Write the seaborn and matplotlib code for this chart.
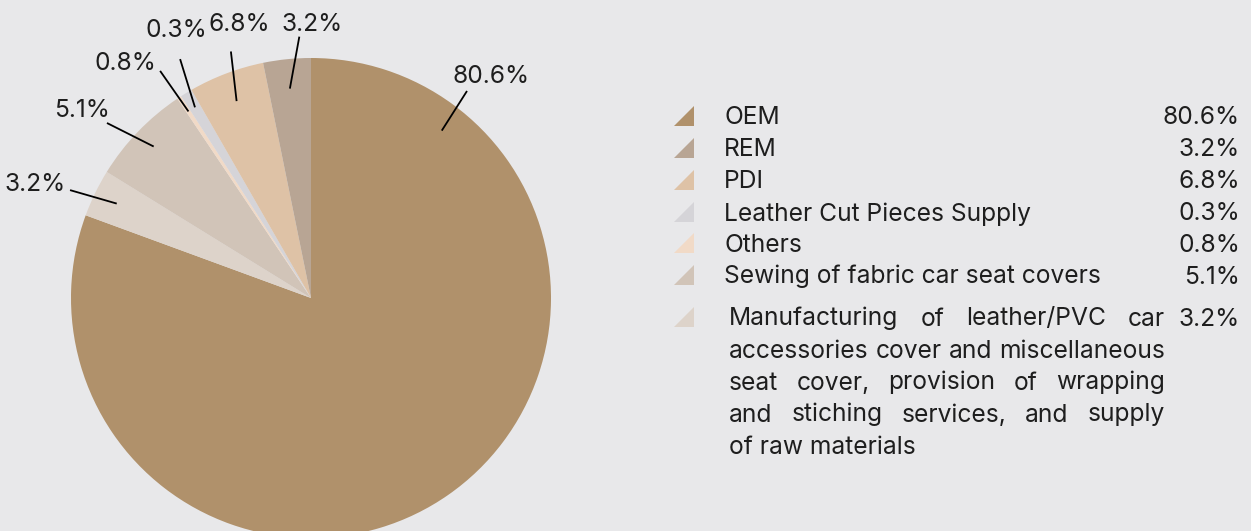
import numpy as np
import matplotlib
matplotlib.use("Agg")
import matplotlib.pyplot as plt
from matplotlib.patches import Polygon
import seaborn as sns

# ---------------- data ----------------
categories = ["OEM", "REM", "PDI", "Leather Cut Pieces Supply", "Others",
              "Sewing of fabric car seat covers",
              "Manufacturing of leather/PVC car accessories cover and miscellaneous "
              "seat cover, provision of wrapping and stiching services, and supply "
              "of raw materials"]
shares = [80.6, 3.2, 6.8, 0.3, 0.8, 5.1, 3.2]
colors = ["#B0916B", "#B8A594", "#DEC2A6", "#D5D4D8", "#F1DAC7", "#D1C4B8", "#DDD3CA"]
# the source chart paints the wedges (drawn clockwise in legend order)
# with the colours/labels of the categories in reverse order
wedge_style_src = [0, 6, 5, 4, 3, 2, 1]

BG = "#E8E8EA"
TXT = "#1E1E1E"

sns.set_theme(style="white", rc={"figure.facecolor": BG, "axes.facecolor": BG,
                                 "savefig.facecolor": BG})
plt.rcParams["font.family"] = ["Inter", "DejaVu Sans"]

W, H = 1251, 531
fig = plt.figure(figsize=(W / 100, H / 100), dpi=100)

# pie axes: centre (311, 298) px, radius 240 px
cx, cy, R = 311, 298, 240
ax = fig.add_axes([(cx - R) / W, (H - cy - R) / H, 2 * R / W, 2 * R / H])
wedge_colors = [colors[i] for i in wedge_style_src]
wedges, _ = ax.pie(shares, colors=wedge_colors, startangle=90, counterclock=False,
                   radius=1.0, wedgeprops=dict(linewidth=0))
ax.set_xlim(-1, 1)
ax.set_ylim(-1, 1)
ax.set_aspect("equal")
ax.axis("off")

FS = 17.7
BASE = 8.5  # px from visual centre of capitals down to baseline
# leader-line layout: (end-angle nudge deg, start radius, end radius)
line_geom = [(1.0, 0.885, 1.08), (1.8, 0.9, 1.1), (3.3, 0.91, 1.12), (0.3, 0.93, 1.136),
             (-2.6, 0.93, 1.135), (-2.7, 0.877, 1.08), (-3.2, 0.877, 1.09)]
# label nudges (px, y down) relative to leader-line end
label_nudge = [(24.5, -16), (-35, -8), (-25, -15), (-35, -9), (-4, -31), (8.5, -29), (13, -14)]
OEM_LABEL_ANGLE = 52.0
for i, w in enumerate(wedges):
    mid = (w.theta1 + w.theta2) / 2.0
    if i == 0:
        mid = OEM_LABEL_ANGLE
    nud, r0, r1 = line_geom[i]
    a0 = np.deg2rad(mid)
    a1 = np.deg2rad(mid + nud)
    x0, y0 = r0 * np.cos(a0), r0 * np.sin(a0)
    x1, y1 = r1 * np.cos(a1), r1 * np.sin(a1)
    ax.plot([x0, x1], [y0, y1], color="black", lw=1.3, clip_on=False,
            solid_capstyle="butt")
    dx, dy = label_nudge[i]
    ax.annotate(f"{shares[wedge_style_src[i]]:.1f}%", xy=(x1, y1),
                xytext=(dx * 0.72, -(dy + BASE) * 0.72), textcoords="offset points",
                ha="center", va="baseline", fontsize=FS, color=TXT,
                annotation_clip=False)

# ---------------- legend (overlay in pixel coordinates) ----------------
lg = fig.add_axes([0, 0, 1, 1])
lg.set_xlim(0, W)
lg.set_ylim(H, 0)
lg.axis("off")
lg.patch.set_alpha(0)

row_y = [116, 148, 180, 212, 243, 275, 317]
tri_x0, tri_x1 = 674, 694
for k in range(len(categories)):
    y = row_y[k]
    tri = Polygon([[tri_x0, y + 10], [tri_x1, y + 10], [tri_x1, y - 10]],
                  closed=True, facecolor=colors[k], edgecolor="none")
    lg.add_patch(tri)
    lg.text(1240, y + BASE, f"{shares[k]:.1f}%", ha="right", va="baseline",
            fontsize=FS, color=TXT)
    if k < len(categories) - 1:
        lg.text(724, y + BASE, categories[k], ha="left", va="baseline",
                fontsize=FS, color=TXT)

# justified paragraph for the long category
para_lines = ["Manufacturing of leather/PVC car",
              "accessories cover and miscellaneous",
              "seat cover, provision of wrapping",
              "and stiching services, and supply",
              "of raw materials"]
px0, px1 = 729, 1165
renderer = fig.canvas.get_renderer()
for j, line in enumerate(para_lines):
    y = row_y[-1] + 32 * j + BASE
    if j == len(para_lines) - 1:
        lg.text(px0, y, line, ha="left", va="baseline", fontsize=FS, color=TXT)
        continue
    words = line.split()
    txts = [lg.text(0, y, wd, ha="left", va="baseline", fontsize=FS, color=TXT)
            for wd in words]
    widths = [t.get_window_extent(renderer).width for t in txts]
    gap = (px1 - px0 - sum(widths)) / (len(words) - 1)
    x = px0
    for t, wdt in zip(txts, widths):
        t.set_x(x)
        x += wdt + gap

fig.savefig("out.png", dpi=100, facecolor=BG)
